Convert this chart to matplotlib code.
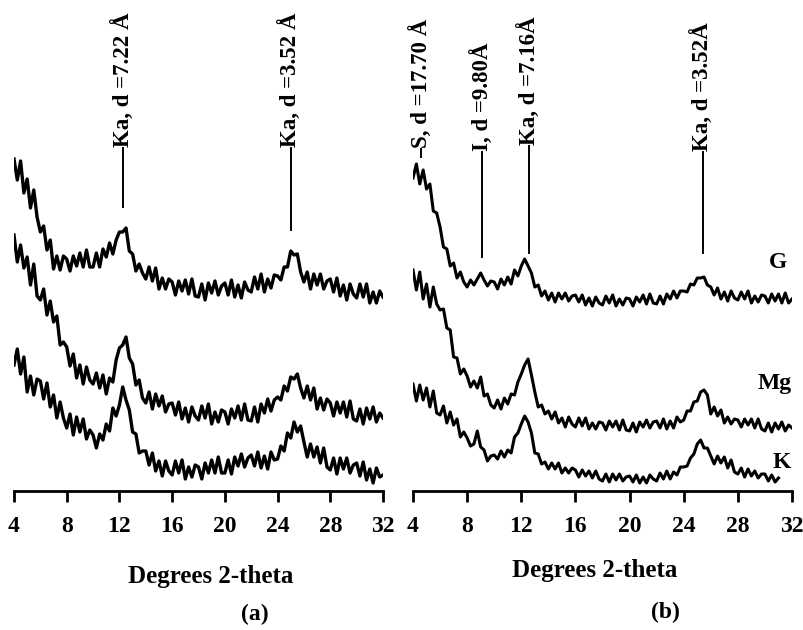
import numpy as np
import matplotlib
matplotlib.use("Agg")
import matplotlib.pyplot as plt

plt.rcParams['font.family'] = ['Liberation Serif', 'DejaVu Serif']
plt.rcParams['font.weight'] = 'bold'

# 2-theta sampling, 0.25 deg steps
two_theta = np.arange(4, 32.001, 0.25)
two_theta_kb = np.arange(4, 31.001, 0.25)

# (a) patterns, arbitrary intensity units (one row = 2 degrees)
a_G = [332, 311, 330, 298, 312, 283, 301, 274,
       259, 265, 241, 251, 222, 235, 221, 235,
       232, 220, 235, 225, 238, 224, 241, 224,
       224, 238, 224, 242, 234, 248, 237, 251,
       259, 259, 263, 240, 237, 220, 227, 218,
       212, 224, 210, 223, 202, 213, 202, 212,
       209, 196, 210, 200, 211, 197, 212, 195,
       194, 207, 191, 208, 198, 210, 196, 205,
       208, 196, 211, 194, 206, 193, 209, 201,
       199, 214, 202, 217, 199, 212, 203, 216,
       215, 211, 224, 224, 240, 236, 237, 219,
       209, 219, 202, 217, 206, 217, 202, 210,
       212, 199, 213, 195, 206, 191, 207, 197,
       193, 207, 194, 207, 188, 199, 188, 200,
       194]
a_Mg = [256, 229, 246, 223, 234, 206, 227, 195,
        191, 202, 176, 190, 169, 175, 146, 149,
        144, 125, 137, 113, 126, 107, 124, 111,
        107, 118, 103, 116, 97, 113, 109, 131,
        143, 146, 154, 133, 127, 106, 111, 93,
        88, 99, 82, 97, 85, 95, 79, 87,
        88, 76, 89, 72, 83, 69, 84, 75,
        71, 85, 73, 87, 67, 79, 69, 81,
        79, 67, 82, 73, 85, 71, 87, 71,
        70, 84, 69, 87, 78, 92, 80, 91,
        94, 91, 105, 100, 114, 112, 117, 103,
        93, 105, 91, 103, 82, 93, 81, 92,
        88, 75, 89, 78, 89, 74, 90, 72,
        70, 82, 67, 83, 72, 84, 69, 78,
        73]
a_K = [126, 142, 117, 134, 99, 115, 96, 112,
       110, 92, 108, 84, 96, 73, 89, 73,
       63, 77, 56, 74, 59, 72, 52, 61,
       56, 43, 57, 51, 67, 60, 83, 75,
       86, 104, 91, 81, 59, 57, 38, 40,
       40, 26, 38, 20, 30, 15, 30, 20,
       16, 30, 18, 31, 12, 24, 14, 26,
       24, 12, 28, 18, 31, 18, 34, 18,
       18, 31, 17, 34, 25, 37, 24, 33,
       36, 25, 39, 23, 35, 22, 39, 31,
       32, 45, 40, 58, 53, 69, 59, 65,
       49, 34, 47, 34, 44, 28, 43, 24,
       21, 33, 17, 33, 22, 33, 18, 26,
       28, 15, 29, 11, 22, 8, 23, 14,
       16]

# (b) patterns
b_G = [313, 327, 307, 321, 302, 307, 280, 278,
       264, 244, 242, 225, 228, 213, 219, 209,
       204, 211, 206, 212, 218, 211, 205, 210,
       209, 202, 212, 206, 214, 207, 221, 215,
       225, 232, 225, 218, 204, 206, 195, 200,
       191, 198, 189, 198, 192, 198, 190, 195,
       196, 189, 196, 186, 193, 185, 194, 188,
       186, 195, 188, 196, 185, 192, 186, 193,
       192, 185, 194, 189, 196, 187, 197, 188,
       187, 195, 187, 197, 192, 200, 193, 200,
       200, 199, 207, 206, 213, 213, 214, 206,
       204, 196, 203, 192, 199, 190, 200, 193,
       191, 199, 192, 200, 188, 195, 189, 196,
       195, 188, 197, 190, 197, 188, 198, 188,
       192]
b_Mg = [221, 201, 219, 192, 207, 184, 204, 187,
        181, 182, 163, 161, 134, 133, 117, 122,
        115, 104, 110, 103, 114, 95, 97, 86,
        83, 91, 82, 93, 87, 97, 96, 109,
        117, 126, 132, 116, 99, 84, 86, 77,
        80, 72, 79, 68, 73, 64, 74, 67,
        64, 73, 65, 73, 62, 68, 62, 69,
        68, 61, 70, 64, 70, 61, 71, 61,
        60, 68, 59, 69, 64, 71, 63, 69,
        70, 63, 72, 62, 70, 63, 74, 69,
        71, 80, 80, 89, 90, 99, 101, 96,
        77, 84, 75, 81, 68, 74, 67, 72,
        71, 64, 72, 66, 72, 63, 72, 62,
        60, 68, 59, 68, 62, 69, 60, 66,
        63]
b_K = [107, 90, 106, 91, 103, 84, 100, 78,
       76, 85, 68, 79, 66, 72, 54, 59,
       53, 45, 47, 60, 44, 41, 30, 35,
       36, 32, 40, 34, 41, 38, 54, 58,
       67, 75, 69, 58, 38, 37, 27, 29,
       22, 28, 22, 28, 18, 23, 18, 23,
       21, 14, 21, 15, 20, 13, 20, 12,
       10, 17, 9, 17, 11, 17, 10, 14,
       15, 9, 16, 8, 14, 8, 16, 12,
       10, 18, 12, 20, 12, 19, 16, 24,
       24, 25, 33, 37, 47, 51, 43, 43,
       35, 27, 35, 28, 34, 23, 31, 19,
       17, 23, 14, 22, 15, 20, 13, 17,
       17, 10, 16, 9, 13]

# peak annotations: position, text, (line top, line bottom)
peaks_a = [12.3, 25.0]
texts_a = ['Ka, d =7.22 Å', 'Ka, d =3.52 Å']
line_a = [(343, 284), (343, 261)]
peaks_b = [4.6, 9.1, 12.57, 25.42]
texts_b = ['S, d =17.70 Å', 'I, d =9.80Å', 'Ka, d =7.16Å', 'Ka, d =3.52Å']
line_b = [(342, 334), (339, 234), (345, 238), (339, 238)]

samples = ['G', 'Mg', 'K']
sample_pos = [(30.96, 228), (30.74, 108), (31.25, 28)]

fig = plt.figure(figsize=(8.04, 6.30), dpi=100)
W, H = 804, 630
ax_a = fig.add_axes([14 / W, 139 / H, 369 / W, 491 / H])
ax_b = fig.add_axes([413 / W, 139 / H, 379 / W, 491 / H])

ax_a.plot(two_theta, a_G, color='black', lw=2.4)
ax_a.plot(two_theta, a_Mg, color='black', lw=2.4)
ax_a.plot(two_theta, a_K, color='black', lw=2.4)
ax_b.plot(two_theta, b_G, color='black', lw=2.2)
ax_b.plot(two_theta, b_Mg, color='black', lw=2.2)
ax_b.plot(two_theta_kb, b_K, color='black', lw=2.2)

for ax, pk, tx, ln in [(ax_a, peaks_a, texts_a, line_a),
                       (ax_b, peaks_b, texts_b, line_b)]:
    for p, t, (top, bot) in zip(pk, tx, ln):
        ax.plot([p, p], [top, bot], color='black', lw=1.4)
        ax.text(p, top + 1, t, rotation=90, ha='center', va='bottom',
                fontsize=16.5, fontweight='bold')

for s, (x, y) in zip(samples, sample_pos):
    ax_b.text(x, y, s, ha='center', va='center', fontsize=17,
              fontweight='bold')

for ax in (ax_a, ax_b):
    ax.set_xlim(4, 32)
    ax.set_ylim(0, 491)
    for side in ('top', 'left', 'right'):
        ax.spines[side].set_visible(False)
    ax.spines['bottom'].set_linewidth(2)
    ax.set_yticks([])
    ax.set_xticks(range(4, 33, 4))
    ax.tick_params(axis='x', direction='out', length=8, width=2, pad=10,
                   labelsize=17)
    for lab in ax.get_xticklabels():
        lab.set_fontweight('bold')
    ax.patch.set_alpha(0)

fig.text(211 / W, 1 - 577 / H, 'Degrees 2-theta', ha='center', va='center',
         fontsize=18, fontweight='bold')
fig.text(595 / W, 1 - 570 / H, 'Degrees 2-theta', ha='center', va='center',
         fontsize=18, fontweight='bold')
fig.text(255 / W, 1 - 614 / H, '(a)', ha='center', va='center',
         fontsize=17, fontweight='bold')
fig.text(665 / W, 1 - 612 / H, '(b)', ha='center', va='center',
         fontsize=17, fontweight='bold')

fig.savefig('out.png', dpi=100)
